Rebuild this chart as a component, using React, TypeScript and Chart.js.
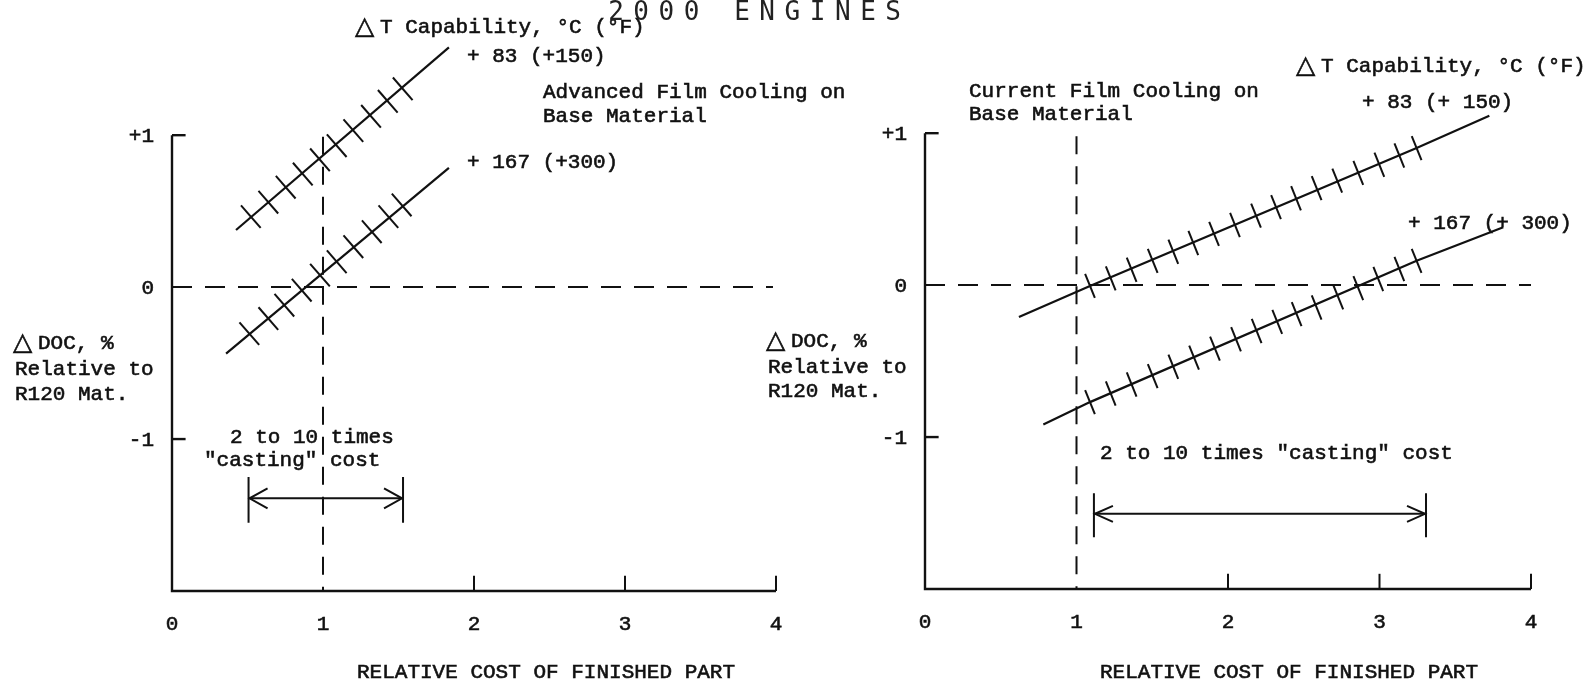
import React, { useEffect, useRef } from "react";
import { Chart, registerables } from "chart.js";

Chart.register(...registerables);

// ---------------- shared axis data ----------------
const X_TICK_VALUES = [0, 1, 2, 3, 4];
const X_TICK_LABELS = ["0", "1", "2", "3", "4"];
const Y_TICK_VALUES = [1, 0, -1];
const Y_TICK_LABELS = ["+1", "0", "-1"];
const X_AXIS_MARKS = [2, 3, 4];
const Y_AXIS_STUBS = [1, -1];
const X_MIN = 0;
const X_MAX = 4;
const Y_MIN = -2;
const Y_MAX = 1.87;
const Y_AXIS_TOP = 1;
const REF_X = 1; // relative cost = 1 (dashed vertical)
const REF_Y = 0; // ΔDOC = 0 (dashed horizontal)
const TITLE = "2000 ENGINES";

// ---------------- left panel: Advanced Film Cooling on Base Material ----------------
const L_X_83 = [0.424, 1.834];
const L_Y_83 = [0.376, 1.578];
const L_X_167 = [0.358, 1.834];
const L_Y_167 = [-0.438, 0.785];
const L_TICK_X_83 = [0.522, 0.638, 0.753, 0.866, 0.98, 1.091, 1.201, 1.318, 1.429, 1.528];
const L_TICK_Y_83 = [0.464, 0.559, 0.658, 0.744, 0.838, 0.931, 1.03, 1.124, 1.223, 1.305];
const L_TICK_X_167 = [0.512, 0.638, 0.744, 0.859, 0.98, 1.091, 1.201, 1.323, 1.433, 1.521];
const L_TICK_Y_167 = [-0.306, -0.207, -0.119, -0.02, 0.079, 0.167, 0.266, 0.365, 0.464, 0.541];
const L_RANGE_X = [0.507, 1.53];
const L_RANGE_Y = -1.39;
const L_RANGE_BAR = [-1.25, -1.55];
const L_HDASH_END = 3.98;
const L_VDASH_TOP = 0.99;

// ---------------- right panel: Current Film Cooling on Base Material ----------------
const R_X_83 = [0.62, 1.089, 3.245, 3.725];
const R_Y_83 = [-0.21, -0.005, 0.902, 1.114];
const R_X_167 = [0.781, 1.089, 3.245, 3.817];
const R_Y_167 = [-0.918, -0.77, 0.16, 0.381];
const R_TICK_X_83 = [1.089, 1.226, 1.364, 1.503, 1.639, 1.771, 1.908, 2.046, 2.185, 2.317, 2.449, 2.585, 2.721, 2.86, 2.999, 3.131, 3.245];
const R_TICK_Y_83 = [-0.005, 0.044, 0.101, 0.16, 0.22, 0.277, 0.337, 0.396, 0.457, 0.513, 0.572, 0.638, 0.688, 0.739, 0.792, 0.853, 0.902];
const R_TICK_X_167 = [1.089, 1.226, 1.364, 1.503, 1.639, 1.776, 1.914, 2.053, 2.189, 2.325, 2.453, 2.585, 2.728, 2.86, 2.992, 3.131, 3.245];
const R_TICK_Y_167 = [-0.77, -0.713, -0.654, -0.599, -0.537, -0.477, -0.418, -0.356, -0.302, -0.242, -0.191, -0.147, -0.081, -0.02, 0.04, 0.106, 0.16];
const R_RANGE_X = [1.115, 3.307];
const R_RANGE_Y = -1.505;
const R_RANGE_BAR = [-1.37, -1.66];
const R_HDASH_END = 4.0;
const R_VDASH_TOP = 0.98;

// ---------------- layout / style ----------------
const W = 1587;
const H = 689;
const INK = "#111";
const FONT = "21px 'Liberation Mono', 'DejaVu Sans Mono', monospace";
const TRI_FONT = "25px 'DejaVu Sans', sans-serif";

type TextItem = { t: string; x: number; y: number; tri?: boolean };
type Panel = {
  area: { left: number; right: number; top: number; bottom: number };
  series: { xs: number[]; ys: number[] }[];
  ticks: { xs: number[]; ys: number[] }[];
  tickRadius: number;
  tickRotation: number;
  hDashEnd: number;
  vDashTop: number;
  rangeX: number[];
  rangeY: number;
  rangeBar: number[];
  arrowHalf: number;
  texts: TextItem[];
  title: boolean;
};

const LEFT: Panel = {
  area: { left: 172, right: 776, top: 3, bottom: 591 },
  series: [
    { xs: L_X_83, ys: L_Y_83 },
    { xs: L_X_167, ys: L_Y_167 },
  ],
  ticks: [
    { xs: L_TICK_X_83, ys: L_TICK_Y_83 },
    { xs: L_TICK_X_167, ys: L_TICK_Y_167 },
  ],
  tickRadius: 15,
  tickRotation: 49,
  hDashEnd: L_HDASH_END,
  vDashTop: L_VDASH_TOP,
  rangeX: L_RANGE_X,
  rangeY: L_RANGE_Y,
  rangeBar: L_RANGE_BAR,
  arrowHalf: 10,
  texts: [
    { t: "T Capability, °C (°F)", x: 355, y: 33, tri: true },
    { t: "+ 83 (+150)", x: 467, y: 62 },
    { t: "Advanced Film Cooling on", x: 543, y: 98 },
    { t: "Base Material", x: 543, y: 122 },
    { t: "+ 167 (+300)", x: 467, y: 168 },
    { t: "DOC, %", x: 13, y: 349, tri: true },
    { t: "Relative to", x: 15, y: 375 },
    { t: "R120 Mat.", x: 15, y: 400 },
    { t: "2 to 10 times", x: 230, y: 443 },
    { t: "\"casting\" cost", x: 204, y: 466 },
    { t: "RELATIVE COST OF FINISHED PART", x: 357, y: 678 },
  ],
  title: true,
};

const RIGHT: Panel = {
  area: { left: 925, right: 1531, top: 1, bottom: 589 },
  series: [
    { xs: R_X_83, ys: R_Y_83 },
    { xs: R_X_167, ys: R_Y_167 },
  ],
  ticks: [
    { xs: R_TICK_X_83, ys: R_TICK_Y_83 },
    { xs: R_TICK_X_167, ys: R_TICK_Y_167 },
  ],
  tickRadius: 13,
  tickRotation: 68,
  hDashEnd: R_HDASH_END,
  vDashTop: R_VDASH_TOP,
  rangeX: R_RANGE_X,
  rangeY: R_RANGE_Y,
  rangeBar: R_RANGE_BAR,
  arrowHalf: 8,
  texts: [
    { t: "T Capability, °C (°F)", x: 1296, y: 72, tri: true },
    { t: "Current Film Cooling on", x: 969, y: 97 },
    { t: "Base Material", x: 969, y: 120 },
    { t: "+ 83 (+ 150)", x: 1362, y: 108 },
    { t: "+ 167 (+ 300)", x: 1408, y: 229 },
    { t: "DOC, %", x: 766, y: 347, tri: true },
    { t: "Relative to", x: 768, y: 373 },
    { t: "R120 Mat.", x: 768, y: 397 },
    { t: "2 to 10 times \"casting\" cost", x: 1100, y: 459 },
    { t: "RELATIVE COST OF FINISHED PART", x: 1100, y: 678 },
  ],
  title: false,
};

const zip = (xs: number[], ys: number[]) => xs.map((x, i) => ({ x, y: ys[i] }));

function segment(points: { x: number; y: number }[], width: number, dash: number[] = []) {
  return {
    data: points,
    showLine: true,
    borderColor: INK,
    borderWidth: width,
    borderDash: dash,
    pointRadius: 0,
    pointHoverRadius: 0,
    fill: false,
    tension: 0,
    clip: false,
  };
}

function buildDatasets(p: Panel) {
  const ds: any[] = [];
  p.series.forEach((s) => ds.push(segment(zip(s.xs, s.ys), 2.2)));
  p.ticks.forEach((t) =>
    ds.push({
      data: zip(t.xs, t.ys),
      showLine: false,
      pointStyle: "line",
      pointRadius: p.tickRadius,
      pointHoverRadius: p.tickRadius,
      pointRotation: p.tickRotation,
      pointBorderColor: INK,
      pointBorderWidth: 2,
      borderColor: INK,
      clip: false,
    })
  );
  // axes (partial y axis from +1 down to -2, then x axis to 4)
  ds.push(
    segment(
      [
        { x: X_MIN, y: Y_AXIS_TOP },
        { x: X_MIN, y: Y_MIN },
        { x: X_MAX, y: Y_MIN },
      ],
      2.4
    )
  );
  Y_AXIS_STUBS.forEach((v) => ds.push(segment([{ x: X_MIN, y: v }, { x: X_MIN + 0.09, y: v }], 2.4)));
  X_AXIS_MARKS.forEach((v) => ds.push(segment([{ x: v, y: Y_MIN }, { x: v, y: Y_MIN + 0.1 }], 2)));
  // dashed reference lines
  ds.push(segment([{ x: X_MIN, y: REF_Y }, { x: p.hDashEnd, y: REF_Y }], 2, [20, 13]));
  ds.push(segment([{ x: REF_X, y: p.vDashTop }, { x: REF_X, y: Y_MIN }], 2, [18, 12]));
  // "2 to 10 times casting cost" range
  ds.push(segment([{ x: p.rangeX[0], y: p.rangeY }, { x: p.rangeX[1], y: p.rangeY }], 2));
  p.rangeX.forEach((v) =>
    ds.push(segment([{ x: v, y: p.rangeBar[0] }, { x: v, y: p.rangeBar[1] }], 2))
  );
  return ds;
}

function inkText(ctx: CanvasRenderingContext2D, s: string, x: number, y: number) {
  ctx.fillText(s, x, y);
  ctx.lineWidth = 0.6;
  ctx.strokeText(s, x, y);
}

function annotatePlugin(p: Panel) {
  return {
    id: "annotate",
    afterDatasetsDraw(chart: any) {
      const ctx: CanvasRenderingContext2D = chart.ctx;
      const xs = chart.scales.x;
      const ys = chart.scales.y;
      ctx.save();
      ctx.fillStyle = INK;
      ctx.strokeStyle = INK;
      ctx.lineWidth = 2;
      ctx.lineJoin = "miter";
      // arrowheads
      const ay = ys.getPixelForValue(p.rangeY);
      const a = xs.getPixelForValue(p.rangeX[0]);
      const b = xs.getPixelForValue(p.rangeX[1]);
      const h = p.arrowHalf;
      ctx.beginPath();
      ctx.moveTo(a + 19, ay - h);
      ctx.lineTo(a + 1, ay);
      ctx.lineTo(a + 19, ay + h);
      ctx.moveTo(b - 19, ay - h);
      ctx.lineTo(b - 1, ay);
      ctx.lineTo(b - 19, ay + h);
      ctx.stroke();

      // axis tick labels
      ctx.font = FONT;
      ctx.textBaseline = "alphabetic";
      ctx.textAlign = "center";
      const base = ys.getPixelForValue(Y_MIN) + 39;
      X_TICK_VALUES.forEach((v, i) => inkText(ctx, X_TICK_LABELS[i], xs.getPixelForValue(v), base));
      ctx.textAlign = "right";
      const lx = xs.getPixelForValue(X_MIN) - 18;
      Y_TICK_VALUES.forEach((v, i) => inkText(ctx, Y_TICK_LABELS[i], lx, ys.getPixelForValue(v) + 7));

      // annotation texts
      ctx.textAlign = "left";
      p.texts.forEach((it) => {
        let x = it.x;
        if (it.tri) {
          ctx.font = TRI_FONT;
          inkText(ctx, "△", x, it.y + 1);
          x += 25;
        }
        ctx.font = FONT;
        inkText(ctx, it.t, x, it.y);
      });

      // page title
      if (p.title) {
        ctx.font = "26px 'DejaVu Sans Mono', monospace";
        ctx.fillStyle = "#222";
        ctx.textAlign = "center";
        TITLE.split("").forEach((ch, i) => ctx.fillText(ch, 616 + i * 25.2, 20));
      }
      ctx.restore();
    },
  };
}

const pinRange = (min: number, max: number) => (scale: any) => {
  scale.min = min;
  scale.max = max;
};

function PanelChart({ panel }: { panel: Panel }) {
  const ref = useRef<HTMLCanvasElement | null>(null);
  useEffect(() => {
    if (!ref.current) return;
    const chart = new Chart(ref.current, {
      type: "scatter",
      data: { datasets: buildDatasets(panel) },
      options: {
        animation: false,
        responsive: false,
        devicePixelRatio: 1,
        events: [],
        layout: {
          autoPadding: false,
          padding: {
            left: panel.area.left,
            right: W - panel.area.right,
            top: panel.area.top,
            bottom: H - panel.area.bottom,
          },
        },
        scales: {
          x: {
            type: "linear",
            bounds: "data",
            min: X_MIN,
            max: X_MAX,
            display: false,
            afterBuildTicks: pinRange(X_MIN, X_MAX),
          },
          y: {
            type: "linear",
            bounds: "data",
            min: Y_MIN,
            max: Y_MAX,
            display: false,
            afterBuildTicks: pinRange(Y_MIN, Y_MAX),
          },
        },
        plugins: {
          legend: { display: false },
          tooltip: { enabled: false },
        },
      } as any,
      plugins: [annotatePlugin(panel)],
    });
    return () => chart.destroy();
  }, [panel]);
  return (
    <canvas
      ref={ref}
      width={W}
      height={H}
      style={{ position: "absolute", left: 0, top: 0, width: W, height: H }}
    />
  );
}

export default function App() {
  return (
    <div
      style={{
        position: "fixed",
        left: 0,
        top: 0,
        width: W,
        height: H,
        background: "#fff",
        overflow: "hidden",
      }}
    >
      <PanelChart panel={LEFT} />
      <PanelChart panel={RIGHT} />
    </div>
  );
}
